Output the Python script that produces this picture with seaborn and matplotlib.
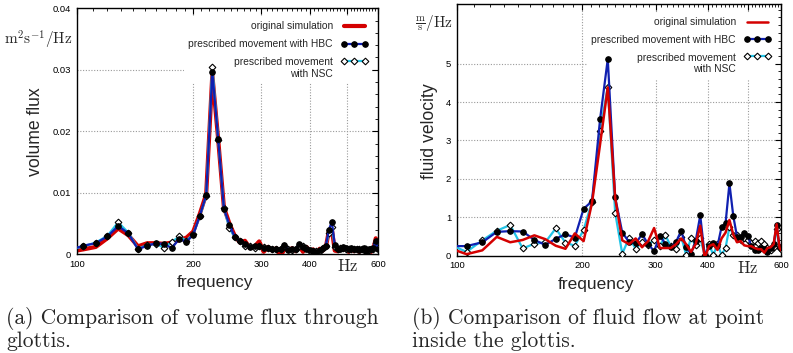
import numpy as np
import pandas as pd
import matplotlib
matplotlib.use("Agg")
import matplotlib.pyplot as plt
import matplotlib.ticker as mticker
import matplotlib.transforms as mtransforms
import seaborn as sns

# ---- data ------------------------------------------------------------------
# (a) volume flux, FFT bins every 8 Hz
freq_flux = np.arange(96, 601, 8)
flux_orig = [0.0004, 0.0008, 0.0012, 0.0026, 0.0042, 0.0031, 0.0013, 0.0018, 0.0018, 0.0017,
             0.0019, 0.0023, 0.0027, 0.0037, 0.0066, 0.0098, 0.0292, 0.0186, 0.0076, 0.0050,
             0.0030, 0.0019, 0.0022, 0.0010, 0.0013, 0.0021, 0.0004, 0.0012, 0.0006, 0.0010,
             -0.0004, 0.0009, 0.0006, 0.0010, 0.0005, 0.0013, 0.0004, 0.0012, 0.0006, 0.0008,
             0.0002, 0.0009, 0.0006, 0.0012, 0.0038, 0.0040, 0.0006, 0.0005, 0.0008, 0.0007,
             0.0010, 0.0004, 0.0009, 0.0005, 0.0009, 0.0004, 0.0007, 0.0008, 0.0004, 0.0008,
             0.0004, 0.0009, 0.0026, 0.0008]
flux_hbc = [0.0007, 0.0014, 0.0018, 0.0029, 0.0046, 0.0034, 0.0008, 0.0014, 0.0018, 0.0017,
            0.0010, 0.0025, 0.0020, 0.0032, 0.0063, 0.0096, 0.0296, 0.0187, 0.0074, 0.0048,
            0.0028, 0.0021, 0.0016, 0.0012, 0.0014, 0.0013, 0.0010, 0.0011, 0.0009, 0.0008,
            0.0009, 0.0015, 0.0007, 0.0008, 0.0009, 0.0016, 0.0012, 0.0008, 0.0007, 0.0005,
            0.0004, 0.0007, 0.0011, 0.0014, 0.0040, 0.0053, 0.0015, 0.0008, 0.0009, 0.0012,
            0.0010, 0.0009, 0.0010, 0.0008, 0.0009, 0.0007, 0.0008, 0.0010, 0.0006, 0.0009,
            0.0008, 0.0010, 0.0022, 0.0009]
flux_nsc = [0.0007, 0.0013, 0.0019, 0.0030, 0.0052, 0.0035, 0.0009, 0.0015, 0.0017, 0.0011,
            0.0020, 0.0029, 0.0022, 0.0033, 0.0062, 0.0095, 0.0305, 0.0186, 0.0075, 0.0042,
            0.0028, 0.0022, 0.0014, 0.0013, 0.0011, 0.0014, 0.0012, 0.0010, 0.0008, 0.0009,
            0.0008, 0.0014, 0.0008, 0.0007, 0.0008, 0.0014, 0.0013, 0.0010, 0.0006, 0.0006,
            0.0005, 0.0006, 0.0010, 0.0013, 0.0035, 0.0045, 0.0012, 0.0009, 0.0010, 0.0011,
            0.0009, 0.0008, 0.0009, 0.0009, 0.0008, 0.0008, 0.0009, 0.0007, 0.0008, 0.0007,
            0.0008, 0.0009, 0.0019, 0.0010]

# (b) fluid velocity, FFT bins every 9.6 Hz
freq_vel = np.arange(10, 64) * 9.6
vel_orig = [0.20, 0.04, 0.14, 0.49, 0.35, 0.41, 0.53, 0.43, 0.26, 0.18,
            0.58, 0.38, 1.38, 2.90, 4.38, 1.50, 0.40, 0.30, 0.45, 0.22,
            0.38, 0.72, 0.20, 0.20, 0.20, 0.30, 0.45, 0.30, 0.10, 0.30,
            0.78, -0.05, 0.25, 0.30, 0.15, 0.45, 0.60, 0.93, 0.55, 0.35,
            0.38, 0.27, 0.25, 0.25, 0.20, 0.17, 0.17, 0.08, 0.20, 0.22,
            0.30, 0.82, 0.20, 0.10]
vel_hbc = [0.25, 0.25, 0.35, 0.62, 0.64, 0.63, 0.41, 0.28, 0.44, 0.56,
           0.47, 1.22, 1.42, 3.55, 5.12, 1.52, 0.60, 0.36, 0.32, 0.56,
           0.30, 0.12, 0.52, 0.31, 0.22, 0.36, 0.65, 0.22, 0.05, 0.38,
           1.05, 0.00, 0.25, 0.32, 0.25, 0.75, 0.84, 1.88, 1.04, 0.50,
           0.50, 0.58, 0.52, 0.25, 0.15, 0.15, 0.20, 0.17, 0.10, 0.20,
           0.30, 0.80, 0.22, 0.20]
vel_nsc = [0.30, 0.10, 0.40, 0.65, 0.80, 0.19, 0.31, 0.35, 0.71, 0.34,
           0.26, 0.67, 1.41, 3.24, 4.40, 1.12, 0.05, 0.47, 0.18, 0.35,
           0.27, 0.42, 0.25, 0.53, 0.25, 0.18, 0.50, 0.02, 0.47, 0.27,
           0.45, 0.02, 0.30, 0.02, 0.30, 0.02, 0.20, 0.75, 0.55, 0.55,
           0.40, 0.45, 0.40, 0.33, 0.38, 0.32, 0.38, 0.30, 0.20, 0.15,
           0.22, 0.70, 0.20, 0.15]

labels = ["original simulation", "prescribed movement with HBC", "prescribed movement\nwith NSC"]
x_ticks = [100, 200, 300, 400, 500, 600]
x_ticklabels = ["100", "200", "300", "400", "", "600"]

RED = "#d40000"
BLUE = "#1020b0"
CYAN = "#22c4e6"
GRID = "#9a9a9a"

sns.set_theme(style="white")
plt.rcParams["font.family"] = ["Liberation Sans", "DejaVu Sans"]
plt.rcParams["mathtext.fontset"] = "cm"

fig = plt.figure(figsize=(7.93, 3.53), dpi=100)
ax1 = fig.add_axes([0.0967, 0.2796, 0.3800, 0.6970])
ax2 = fig.add_axes([0.5759, 0.2756, 0.4090, 0.7130])


def draw(ax, freq, orig, hbc, nsc, lw_red, red_z):
    df = pd.DataFrame({"f": freq, "orig": orig, "hbc": hbc, "nsc": nsc})
    sns.lineplot(data=df, x="f", y="orig", ax=ax, color=RED, lw=lw_red,
                 label=labels[0], zorder=red_z)
    sns.lineplot(data=df, x="f", y="hbc", ax=ax, color=BLUE, lw=1.6,
                 marker="o", markersize=4, markerfacecolor="black",
                 markeredgecolor="black", label=labels[1], zorder=4)
    sns.lineplot(data=df, x="f", y="nsc", ax=ax, color=CYAN, lw=1.6,
                 marker="D", markersize=3.4, markerfacecolor="white",
                 markeredgecolor="black", markeredgewidth=0.8,
                 label=labels[2], zorder=3)

    ax.set_xscale("log")
    ax.set_xlim(100, 600)
    ax.xaxis.set_major_locator(mticker.FixedLocator(x_ticks))
    ax.xaxis.set_major_formatter(mticker.FixedFormatter(x_ticklabels))
    minors = [v for v in range(110, 600, 10) if v not in x_ticks]
    ax.xaxis.set_minor_locator(mticker.FixedLocator(minors))
    ax.xaxis.set_minor_formatter(mticker.NullFormatter())

    ax.tick_params(which="both", direction="in", top=True, right=True,
                   labelsize=6.8, colors="black", pad=4)
    ax.tick_params(which="major", length=4, width=0.8)
    ax.tick_params(which="minor", length=2, width=0.6)
    for s in ax.spines.values():
        s.set_color("black")
        s.set_linewidth(1.0)

    ax.set_axisbelow(True)
    for v in [200, 300, 400, 500]:
        ax.axvline(v, color=GRID, lw=0.8, ls=(0, (1, 1.5)), zorder=0.5)

    tr = mtransforms.blended_transform_factory(ax.transData, ax.transAxes)
    ax.text(500, -0.048, r"$\mathrm{Hz}$", transform=tr, ha="center",
            va="center", fontsize=12)

    ax.set_xlabel("frequency", fontsize=12.5)
    leg = ax.legend(loc="upper right", bbox_to_anchor=(1.0, 0.988),
                    markerfirst=False, fontsize=7.4, handlelength=2.6,
                    handletextpad=0.8, labelspacing=0.75, borderaxespad=0.55,
                    borderpad=0.45, numpoints=3, frameon=True, framealpha=1,
                    facecolor="white", edgecolor="none", fancybox=False)
    leg.get_texts()[2].set_multialignment("right")
    # put the NSC handle next to the first line of its two-line label
    col = leg._legend_handle_box.get_children()[0]
    col.get_children()[2].align = "top"
    leg.set_zorder(1.5)


# (a)
draw(ax1, freq_flux, flux_orig, flux_hbc, flux_nsc, lw_red=3.0, red_z=2)
ax1.set_ylim(0, 0.04)
ax1.set_yticks([0, 0.01, 0.02, 0.03, 0.04])
ax1.set_yticklabels(["0", "0.01", "0.02", "0.03", "0.04"])
ax1.yaxis.set_minor_locator(mticker.MultipleLocator(0.002))
for v in [0.01, 0.02, 0.03]:
    ax1.axhline(v, color=GRID, lw=0.8, ls=(0, (1, 1.5)), zorder=0.5)
ax1.set_ylabel("volume flux", fontsize=12.7)
ax1.yaxis.set_label_coords(-0.108, 0.5)
ax1.xaxis.set_label_coords(0.46, -0.085)
ax1.text(-0.015, 0.871, r"$\mathrm{m^2s^{-1}/Hz}$", transform=ax1.transAxes,
         ha="right", va="center", fontsize=11)

# (b)
draw(ax2, freq_vel, vel_orig, vel_hbc, vel_nsc, lw_red=1.8, red_z=5)
ax2.set_ylim(0, 6.55)
ax2.set_yticks([0, 1, 2, 3, 4, 5])
ax2.yaxis.set_minor_locator(mticker.MultipleLocator(0.2))
for v in [1, 2, 3, 4, 5]:
    ax2.axhline(v, color=GRID, lw=0.8, ls=(0, (1, 1.5)), zorder=0.5)
ax2.set_ylabel("fluid velocity", fontsize=12.7)
ax2.yaxis.set_label_coords(-0.058, 0.495)
ax2.xaxis.set_label_coords(0.43, -0.083)
ax2.text(-0.012, 0.9245, r"$\frac{\mathrm{m}}{\mathrm{s}}/\mathrm{Hz}$",
         transform=ax2.transAxes, ha="right", va="center", fontsize=11)

# captions
cap = dict(family="cmr10", fontsize=15.5, va="center", ha="left")
fig.text(0.008, 0.099, "(a) Comparison of volume flux through", **cap)
fig.text(0.008, 0.034, "glottis.", **cap)
fig.text(0.5195, 0.099, "(b) Comparison of fluid flow at point", **cap)
fig.text(0.5195, 0.034, "inside the glottis.", **cap)

fig.savefig("out.png", dpi=100)
